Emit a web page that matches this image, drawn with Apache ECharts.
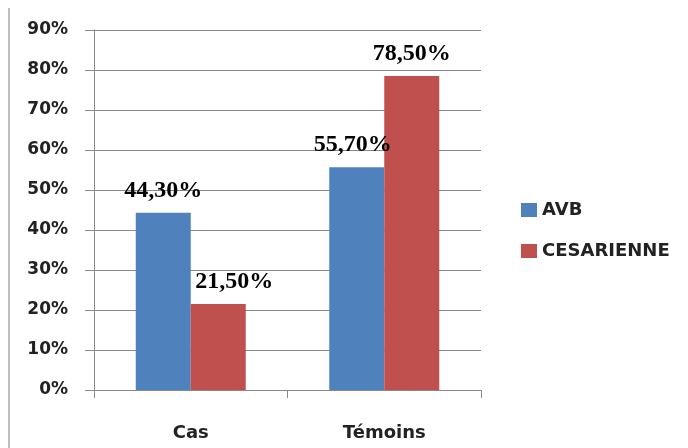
<!DOCTYPE html>
<html lang="fr">
<head>
    <meta charset="UTF-8">
    <title>AVB / CESARIENNE</title>
    <style>
        html, body { margin: 0; padding: 0; background: #fff; }
    </style>
</head>
<body>
<div id="main" style="width:688px; height:448px"></div>

<script src="https://cdn.jsdelivr.net/npm/echarts@6/dist/echarts.min.js"></script>
<script>
    // données
    var categories = ['Cas', 'Témoins'];
    var avb = [44.3, 55.7];
    var cesarienne = [21.5, 78.5];
    var avbLabels = ['44,30%', '55,70%'];
    var cesLabels = ['21,50%', '78,50%'];

    var myChart = echarts.init(document.getElementById('main'));

    var gridColor = '#8a8a8a';
    var labelFont = { fontFamily: 'Liberation Serif', fontSize: 24, fontWeight: 'bold', color: '#000', lineHeight: 20 };

    function barLabels(arr, texts, offsets) {
        return arr.map(function (v, i) {
            return {
                value: v,
                label: Object.assign({
                    show: true, position: 'top', distance: 12,
                    offset: offsets[i], formatter: texts[i]
                }, labelFont)
            };
        });
    }

    var option = {
        animation: false,
        grid: { left: 94, right: 207, top: 30, bottom: 58 },
        legend: {
            orient: 'vertical',
            left: 516, top: 196,
            itemWidth: 16, itemHeight: 14, itemGap: 23,
            icon: 'rect',
            textStyle: { fontFamily: 'DejaVu Sans', fontWeight: 'bold', fontSize: 18, color: '#222' },
            data: ['AVB', 'CESARIENNE']
        },
        xAxis: {
            type: 'category',
            data: categories,
            axisLine: { lineStyle: { color: gridColor } },
            axisTick: { show: true, length: 8, lineStyle: { color: gridColor } },
            axisLabel: { margin: 34, fontFamily: 'DejaVu Sans', fontWeight: 'bold', fontSize: 18, color: '#222' }
        },
        yAxis: {
            type: 'value',
            min: 0, max: 90, interval: 10,
            axisLine: { show: true, lineStyle: { color: gridColor } },
            axisTick: { show: true, length: 9, lineStyle: { color: gridColor } },
            splitLine: { lineStyle: { color: gridColor } },
            axisLabel: {
                formatter: '{value}%', margin: 26,
                fontFamily: 'DejaVu Sans', fontWeight: 'bold', fontSize: 17, color: '#222'
            }
        },
        graphic: [{
            type: 'line',
            shape: { x1: 9, y1: 8, x2: 9, y2: 448 },
            style: { stroke: '#a8a8a8', lineWidth: 1.5 }
        }],
        series: [
            {
                name: 'AVB', type: 'bar', barWidth: 55, barGap: '0%',
                itemStyle: { color: '#4f81bd' },
                data: barLabels(avb, avbLabels, [[0, 0], [-4, 0]])
            },
            {
                name: 'CESARIENNE', type: 'bar', barWidth: 55, barGap: '0%',
                itemStyle: { color: '#c0504d' },
                data: barLabels(cesarienne, cesLabels, [[16, 0], [0, 0]])
            }
        ]
    };

    myChart.setOption(option);
</script>
</body>
</html>
